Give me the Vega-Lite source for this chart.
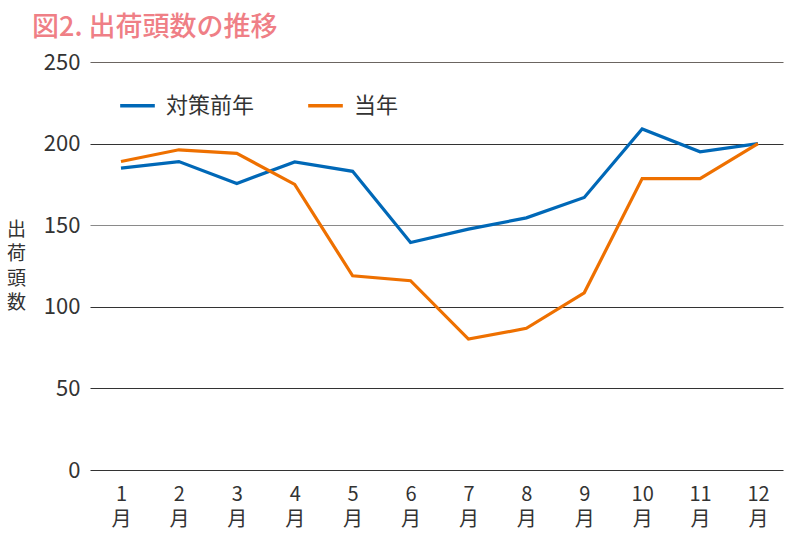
{
  "$schema": "https://vega.github.io/schema/vega-lite/v6.json",
  "width": 693,
  "height": 408,
  "autosize": {"type": "none"},
  "padding": {"left": 90, "top": 62, "right": 17, "bottom": 87},
  "background": "white",
  "config": {
    "font": "Noto Sans CJK JP",
    "view": {"stroke": null}
  },
  "title": {
    "text": "図2. 出荷頭数の推移",
    "anchor": "start",
    "frame": "group",
    "dx": -58,
    "offset": 9,
    "fontSize": 27,
    "fontWeight": 500,
    "color": "#ef7f86",
    "font": "Noto Sans CJK JP"
  },
  "data": {
    "values": [
      {"month": 1, "series": "対策前年", "value": 185},
      {"month": 2, "series": "対策前年", "value": 189},
      {"month": 3, "series": "対策前年", "value": 175.6},
      {"month": 4, "series": "対策前年", "value": 188.8},
      {"month": 5, "series": "対策前年", "value": 183},
      {"month": 6, "series": "対策前年", "value": 139.4},
      {"month": 7, "series": "対策前年", "value": 147.6},
      {"month": 8, "series": "対策前年", "value": 154.5},
      {"month": 9, "series": "対策前年", "value": 167},
      {"month": 10, "series": "対策前年", "value": 209},
      {"month": 11, "series": "対策前年", "value": 195},
      {"month": 12, "series": "対策前年", "value": 200},
      {"month": 1, "series": "当年", "value": 189},
      {"month": 2, "series": "当年", "value": 196.2},
      {"month": 3, "series": "当年", "value": 194},
      {"month": 4, "series": "当年", "value": 175},
      {"month": 5, "series": "当年", "value": 119},
      {"month": 6, "series": "当年", "value": 116},
      {"month": 7, "series": "当年", "value": 80.2},
      {"month": 8, "series": "当年", "value": 86.8},
      {"month": 9, "series": "当年", "value": 108.6},
      {"month": 10, "series": "当年", "value": 178.6},
      {"month": 11, "series": "当年", "value": 178.6},
      {"month": 12, "series": "当年", "value": 200}
    ]
  },
  "mark": {"type": "line", "strokeWidth": 3.2, "strokeJoin": "miter"},
  "encoding": {
    "x": {
      "field": "month",
      "type": "quantitative",
      "scale": {"domain": [0.465, 12.432], "nice": false, "zero": false},
      "axis": {
        "title": null,
        "values": [1, 2, 3, 4, 5, 6, 7, 8, 9, 10, 11, 12],
        "labelAngle": 0,
        "labelExpr": "[datum.label, '月']",
        "labelFontSize": 20,
        "labelLineHeight": 25,
        "labelColor": "#333333",
        "labelPadding": 14,
        "labelBaseline": "top",
        "labelOverlap": false,
        "labelFlush": false,
        "ticks": false,
        "domain": false,
        "grid": false
      }
    },
    "y": {
      "field": "value",
      "type": "quantitative",
      "scale": {"domain": [0, 250], "nice": false},
      "axis": {
        "values": [0, 50, 100, 150, 200, 250],
        "title": ["出", "荷", "頭", "数"],
        "titleAngle": 0,
        "titleX": -74,
        "titleY": 167,
        "titleFontSize": 19,
        "titleFontWeight": "normal",
        "titleLineHeight": 24.5,
        "titleBaseline": "middle",
        "titleColor": "#333333",
        "labelFontSize": 22,
        "labelColor": "#333333",
        "labelPadding": 10,
        "ticks": false,
        "domain": false,
        "grid": true,
        "gridWidth": 1.2,
        "gridColor": {
          "condition": [
            {"test": "datum.value === 150", "value": "#8a8a8a"},
            {"test": "datum.value === 250", "value": "#6b6561"}
          ],
          "value": "#333333"
        }
      }
    },
    "color": {
      "field": "series",
      "type": "nominal",
      "sort": ["対策前年", "当年"],
      "scale": {"domain": ["対策前年", "当年"], "range": ["#0068b7", "#ee7000"]},
      "legend": {
        "title": null,
        "orient": "none",
        "direction": "horizontal",
        "legendX": 28,
        "legendY": 24,
        "labelFontSize": 22,
        "labelColor": "#333333",
        "symbolType": "stroke",
        "symbolSize": 1200,
        "symbolStrokeWidth": 3.5,
        "columnPadding": 46,
        "labelOffset": 9
      }
    }
  }
}
